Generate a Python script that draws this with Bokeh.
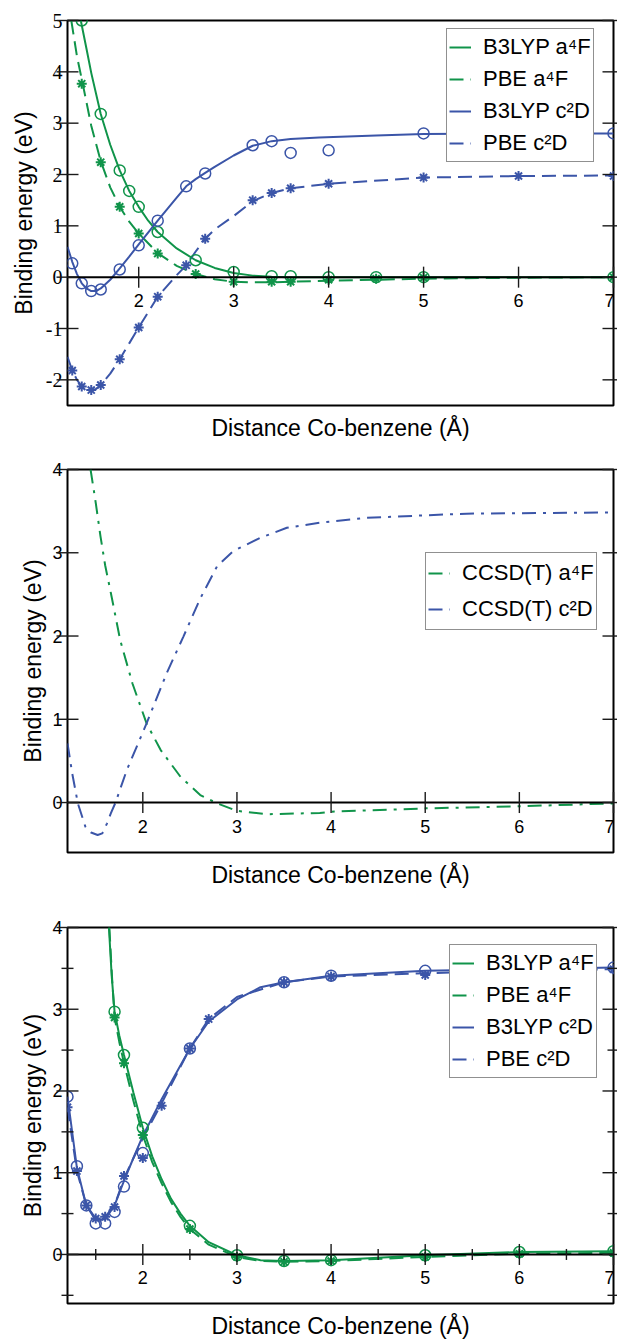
from bokeh.plotting import figure
from bokeh.layouts import column
from bokeh.models import FixedTicker, Range1d, Legend, LegendItem, Span
from bokeh.core.properties import value
from bokeh.embed import file_html
from bokeh.resources import INLINE

GREEN = "#10944a"
BLUE = "#3b55a8"

# ---------------- Panel 1 (DFT, top) ----------------
p1_b3_a4f_x = [1.4, 1.6, 1.8, 1.9, 2.0, 2.2, 2.6, 3.0, 3.4, 3.6, 4.0, 4.5, 5.0, 7.0]
p1_b3_a4f_y = [5.0, 3.18, 2.08, 1.68, 1.37, 0.88, 0.33, 0.10, 0.02, 0.02, 0.0, 0.0, 0.0, 0.0]
p1_pbe_a4f_x = [1.4, 1.6, 1.8, 2.0, 2.2, 2.6, 3.0, 3.4, 3.6, 4.0, 4.5, 5.0, 7.0]
p1_pbe_a4f_y = [3.77, 2.24, 1.37, 0.85, 0.46, 0.06, -0.09, -0.09, -0.09, -0.05, -0.03, -0.01, 0.0]
p1_b3_c2d_x = [1.3, 1.4, 1.5, 1.6, 1.8, 2.0, 2.2, 2.5, 2.7, 3.2, 3.4, 3.6, 4.0, 5.0, 6.0, 7.0]
p1_b3_c2d_y = [0.27, -0.12, -0.27, -0.24, 0.15, 0.62, 1.10, 1.77, 2.02, 2.57, 2.65, 2.42, 2.47, 2.80, 2.80, 2.80]
p1_pbe_c2d_x = [1.3, 1.4, 1.5, 1.6, 1.8, 2.0, 2.2, 2.5, 2.7, 3.2, 3.4, 3.6, 4.0, 5.0, 6.0, 7.0]
p1_pbe_c2d_y = [-1.82, -2.13, -2.20, -2.10, -1.60, -0.98, -0.38, 0.23, 0.75, 1.50, 1.64, 1.73, 1.82, 1.94, 1.97, 1.97]
c1_b3_a4f_x = [1.39, 1.45, 1.5, 1.6, 1.7, 1.8, 1.9, 2.0, 2.1, 2.2, 2.4, 2.6, 2.8, 3.0, 3.2, 3.4, 3.6, 4.0, 5.0, 6.0, 7.0]
c1_b3_a4f_y = [5.0, 4.45, 3.98, 3.18, 2.58, 2.08, 1.68, 1.37, 1.10, 0.88, 0.56, 0.33, 0.18, 0.08, 0.03, 0.01, 0.0, 0.0, 0.0, 0.0, 0.0]
c1_pbe_a4f_x = [1.29, 1.35, 1.41, 1.5, 1.6, 1.7, 1.8, 1.9, 2.0, 2.2, 2.4, 2.6, 2.8, 3.0, 3.2, 3.4, 3.6, 4.0, 5.0, 6.0, 7.0]
c1_pbe_a4f_y = [5.0, 4.3, 3.77, 2.95, 2.26, 1.75, 1.37, 1.08, 0.85, 0.47, 0.22, 0.06, -0.04, -0.09, -0.10, -0.10, -0.09, -0.07, -0.03, -0.01, 0.0]
c1_b3_c2d_x = [1.25, 1.3, 1.35, 1.4, 1.45, 1.5, 1.55, 1.6, 1.7, 1.8, 1.9, 2.0, 2.2, 2.4, 2.5, 2.6, 2.7, 2.8, 3.0, 3.2, 3.4, 3.6, 3.9, 4.5, 5.0, 6.0, 7.0]
c1_b3_c2d_y = [0.59, 0.30, 0.06, -0.12, -0.22, -0.27, -0.27, -0.22, -0.05, 0.17, 0.40, 0.64, 1.10, 1.55, 1.77, 1.91, 2.03, 2.15, 2.37, 2.56, 2.65, 2.69, 2.72, 2.76, 2.79, 2.80, 2.80]
c1_pbe_c2d_x = [1.25, 1.3, 1.35, 1.4, 1.45, 1.5, 1.55, 1.6, 1.7, 1.8, 1.9, 2.0, 2.2, 2.4, 2.5, 2.6, 2.7, 2.8, 3.0, 3.2, 3.4, 3.6, 4.0, 5.0, 6.0, 7.0]
c1_pbe_c2d_y = [-1.55, -1.82, -2.0, -2.13, -2.19, -2.21, -2.18, -2.10, -1.88, -1.60, -1.29, -0.98, -0.38, 0.04, 0.23, 0.50, 0.75, 0.93, 1.19, 1.48, 1.64, 1.73, 1.82, 1.94, 1.97, 1.98]

# ---------------- Panel 2 (CCSD(T), middle) ----------------
c2_a4f_x = [1.445, 1.5, 1.55, 1.6, 1.66, 1.76, 1.89, 2.04, 2.19, 2.4, 2.61, 2.79, 3.0, 3.32, 3.88, 4.0, 5.0, 6.0, 7.0]
c2_a4f_y = [4.0, 3.6, 3.20, 2.85, 2.52, 1.95, 1.43, 0.95, 0.63, 0.31, 0.09, -0.01, -0.10, -0.14, -0.125, -0.11, -0.07, -0.045, -0.01]
c2_c2d_x = [1.2, 1.25, 1.31, 1.39, 1.45, 1.52, 1.57, 1.62, 1.66, 1.71, 1.83, 2.04, 2.26, 2.43, 2.61, 2.79, 2.96, 3.25, 3.53, 3.88, 4.38, 5.44, 7.0]
c2_c2d_y = [0.71, 0.35, -0.01, -0.29, -0.36, -0.39, -0.37, -0.25, -0.13, 0.0, 0.39, 0.95, 1.57, 1.99, 2.45, 2.84, 3.02, 3.18, 3.30, 3.36, 3.42, 3.47, 3.485]

# ---------------- Panel 3 (DFT, bottom) ----------------
p3_b3_a4f_x = [1.7, 1.8, 2.0, 2.5, 3.0, 3.5, 4.0, 5.0, 6.0, 7.0]
p3_b3_a4f_y = [2.97, 2.44, 1.55, 0.35, -0.01, -0.08, -0.07, -0.01, 0.03, 0.04]
p3_pbe_a4f_x = [1.7, 1.8, 2.0, 2.5, 3.0, 3.5, 4.0, 5.0, 6.0, 7.0]
p3_pbe_a4f_y = [2.90, 2.34, 1.46, 0.31, -0.03, -0.09, -0.08, -0.03, 0.01, 0.02]
p3_b3_c2d_x = [1.2, 1.3, 1.4, 1.5, 1.6, 1.7, 1.8, 2.0, 2.5, 3.5, 4.0, 5.0, 6.0, 7.0]
p3_b3_c2d_y = [1.93, 1.08, 0.60, 0.38, 0.38, 0.52, 0.83, 1.24, 2.52, 3.33, 3.41, 3.47, 3.49, 3.51]
p3_pbe_c2d_x = [1.2, 1.3, 1.4, 1.5, 1.6, 1.7, 1.8, 2.0, 2.2, 2.5, 2.7, 3.5, 4.0, 5.0, 6.0, 7.0]
p3_pbe_c2d_y = [1.80, 1.02, 0.60, 0.44, 0.46, 0.58, 0.96, 1.18, 1.82, 2.52, 2.88, 3.33, 3.40, 3.42, 3.47, 3.49]
c3_b3_a4f_x = [1.64, 1.67, 1.7, 1.75, 1.8, 1.9, 2.0, 2.1, 2.2, 2.3, 2.4, 2.5, 2.7, 3.0, 3.25, 3.5, 4.0, 5.0, 6.0, 7.0]
c3_b3_a4f_y = [4.0, 3.4, 2.97, 2.68, 2.44, 1.98, 1.55, 1.20, 0.92, 0.68, 0.50, 0.35, 0.15, -0.01, -0.07, -0.08, -0.07, -0.01, 0.03, 0.04]
c3_pbe_a4f_x = [1.645, 1.675, 1.7, 1.75, 1.8, 1.9, 2.0, 2.1, 2.2, 2.3, 2.4, 2.5, 2.7, 3.0, 3.25, 3.5, 4.0, 5.0, 6.0, 7.0]
c3_pbe_a4f_y = [4.0, 3.35, 2.90, 2.60, 2.34, 1.88, 1.46, 1.13, 0.87, 0.64, 0.46, 0.31, 0.12, -0.03, -0.08, -0.09, -0.08, -0.03, 0.01, 0.02]
c3_b3_c2d_x = [1.2, 1.3, 1.4, 1.5, 1.6, 1.7, 1.8, 1.9, 2.0, 2.2, 2.5, 2.7, 3.0, 3.25, 3.5, 4.0, 5.0, 6.0, 7.0]
c3_b3_c2d_y = [1.93, 1.06, 0.60, 0.42, 0.43, 0.60, 0.90, 1.18, 1.45, 1.90, 2.52, 2.85, 3.12, 3.27, 3.33, 3.41, 3.47, 3.49, 3.51]
c3_pbe_c2d_x = [1.2, 1.3, 1.4, 1.5, 1.6, 1.7, 1.8, 2.0, 2.2, 2.5, 2.7, 3.0, 3.5, 4.0, 5.0, 6.0, 7.0]
c3_pbe_c2d_y = [1.80, 1.02, 0.60, 0.44, 0.46, 0.60, 0.93, 1.42, 1.85, 2.52, 2.88, 3.15, 3.33, 3.40, 3.44, 3.47, 3.49]

x_major = [2, 3, 4, 5, 6, 7]
x_labels = ["2", "3", "4", "5", "6", "7"]
x_minor = [1.5, 2.5, 3.5, 4.5, 5.5, 6.5]
y1_major = [-2, -1, 0, 1, 2, 3, 4, 5]
y23_major = [0, 1, 2, 3, 4]
y23_minor = [-0.5, 0.5, 1.5, 2.5, 3.5]

SANS = "Liberation Sans"
SERIF = "Liberation Serif"
DASH = "14 7"
DASHDOT = "14 7 3 7"
TICK = "#1a1a1a"
FIG_W = 617
BORDER_R = 4


def tick_marks(p, xs, ys, w, h):
    # thin filled bars sized in screen pixels (ticks at the frame edge are clipped to half)
    p.rect(x=xs, y=ys, width=w, height=h, width_units="screen", height_units="screen",
           fill_color=TICK, line_color=None, level="overlay")


def make_fig(h, xr, yr, bl, bt, bb, ymaj, ytick_font, ytick_size, ylab_standoff,
             xlab_offset, minor=False):
    p = figure(width=FIG_W, height=h, x_range=Range1d(*xr), y_range=Range1d(*yr),
               output_backend="svg", toolbar_location=None,
               min_border_left=bl, min_border_right=BORDER_R, min_border_top=bt,
               min_border_bottom=bb)
    p.xgrid.visible = False
    p.ygrid.visible = False
    p.outline_line_color = "black"
    p.outline_line_width = 2
    p.background_fill_color = "white"
    p.border_fill_color = "white"

    xa = p.xaxis[0]
    xa.ticker = FixedTicker(ticks=[])
    xa.axis_line_color = None
    xa.major_tick_in = 0
    xa.major_tick_out = 0
    xa.minor_tick_in = 0
    xa.minor_tick_out = 0
    xa.major_label_standoff = 0
    xa.axis_label = "Distance Co-benzene (Å)"
    xa.axis_label_text_font = SANS
    xa.axis_label_text_font_size = "23px"
    xa.axis_label_text_font_style = "normal"
    xa.axis_label_text_color = "black"
    xa.axis_label_standoff = 9

    ya = p.yaxis[0]
    ya.ticker = FixedTicker(ticks=ymaj)
    ya.major_label_overrides = {v: str(v) for v in ymaj}
    ya.axis_line_color = None
    ya.major_tick_in = 0
    ya.major_tick_out = 0
    ya.minor_tick_in = 0
    ya.minor_tick_out = 0
    ya.major_label_text_font = ytick_font
    ya.major_label_text_font_size = ytick_size
    ya.major_label_text_color = "black"
    ya.major_label_standoff = 5
    ya.axis_label = "Binding energy (eV)"
    ya.axis_label_text_font = SANS
    ya.axis_label_text_font_size = "23px"
    ya.axis_label_text_font_style = "normal"
    ya.axis_label_text_color = "black"
    ya.axis_label_standoff = ylab_standoff

    n = len(x_major)
    m = len(ymaj)
    tick_marks(p, x_major, [0] * n, 1.4, 21)
    tick_marks(p, [xr[0]] * m, ymaj, 22, 1.4)
    tick_marks(p, [xr[1]] * m, ymaj, 22, 1.4)
    if minor:
        tick_marks(p, x_minor, [0] * len(x_minor), 1.4, 11)
        tick_marks(p, [xr[0]] * len(y23_minor), y23_minor, 12, 1.4)
        tick_marks(p, [xr[1]] * len(y23_minor), y23_minor, 12, 1.4)

    p.add_layout(Span(location=0, dimension="width", line_color="black", line_width=2))
    p.text(x_major, [0] * n, text=x_labels, text_align="center",
           text_baseline="middle", x_offset=[0, 0, 0, 0, 0, -4], y_offset=xlab_offset,
           text_font=value(SANS), text_font_size="18px", text_color="black")
    return p


def style_legend(leg, loc, row_h, pad):
    leg.location = loc
    leg.margin = 0
    leg.padding = pad
    leg.spacing = 0
    leg.label_height = row_h
    leg.glyph_height = row_h
    leg.glyph_width = 22
    leg.label_standoff = 12
    leg.label_text_font = SANS
    leg.label_text_font_size = "22px"
    leg.label_text_color = "black"
    leg.label_text_baseline = "middle"
    leg.border_line_color = "#222222"
    leg.border_line_width = 1
    leg.background_fill_alpha = 1


# ---- top ----
p1 = make_fig(448, (1.25, 7.0), (-2.5, 5.0), 63, 20, 43, y1_major, SERIF, "20px", 6, 23)
l1 = p1.line(c1_b3_a4f_x, c1_b3_a4f_y, line_color=GREEN, line_width=2)
l2 = p1.line(c1_pbe_a4f_x, c1_pbe_a4f_y, line_color=GREEN, line_width=2, line_dash=DASH)
l3 = p1.line(c1_b3_c2d_x, c1_b3_c2d_y, line_color=BLUE, line_width=2)
l4 = p1.line(c1_pbe_c2d_x, c1_pbe_c2d_y, line_color=BLUE, line_width=2, line_dash=DASH)
p1.scatter(p1_b3_a4f_x, p1_b3_a4f_y, marker="circle", size=11, fill_color=None, line_color=GREEN, line_width=1.5)
p1.scatter(p1_pbe_a4f_x, p1_pbe_a4f_y, marker="asterisk", size=10, line_color=GREEN, line_width=2)
p1.scatter(p1_b3_c2d_x, p1_b3_c2d_y, marker="circle", size=11, fill_color=None, line_color=BLUE, line_width=1.5)
p1.scatter(p1_pbe_c2d_x, p1_pbe_c2d_y, marker="asterisk", size=10, line_color=BLUE, line_width=2)
leg1 = Legend(items=[LegendItem(label="B3LYP a⁴F", renderers=[l1]),
                     LegendItem(label="PBE a⁴F", renderers=[l2]),
                     LegendItem(label="B3LYP c²D", renderers=[l3]),
                     LegendItem(label="PBE c²D", renderers=[l4])])
style_legend(leg1, (379, 243), 32, 2)
p1.add_layout(leg1)

# ---- middle ----
p2 = make_fig(445, (1.2, 7.0), (-0.6, 4.0), 67, 21, 41, y23_major, SANS, "18px", 3, 24)
m1 = p2.line(c2_a4f_x, c2_a4f_y, line_color=GREEN, line_width=2, line_dash=DASHDOT)
m2 = p2.line(c2_c2d_x, c2_c2d_y, line_color=BLUE, line_width=2, line_dash=DASHDOT)
leg2 = Legend(items=[LegendItem(label="CCSD(T) a⁴F", renderers=[m1]),
                     LegendItem(label="CCSD(T) c²D", renderers=[m2])])
style_legend(leg2, (358, 222), 36, 2)
p2.add_layout(leg2)

# ---- bottom ----
p3 = make_fig(448, (1.2, 7.0), (-0.6, 4.0), 67, 34, 32, y23_major, SANS, "18px", 3, 23, minor=True)
b1 = p3.line(c3_b3_a4f_x, c3_b3_a4f_y, line_color=GREEN, line_width=2)
b2 = p3.line(c3_pbe_a4f_x, c3_pbe_a4f_y, line_color=GREEN, line_width=2, line_dash=DASH)
b3 = p3.line(c3_b3_c2d_x, c3_b3_c2d_y, line_color=BLUE, line_width=2)
b4 = p3.line(c3_pbe_c2d_x, c3_pbe_c2d_y, line_color=BLUE, line_width=2, line_dash=DASH)
p3.scatter(p3_b3_a4f_x, p3_b3_a4f_y, marker="circle", size=11, fill_color=None, line_color=GREEN, line_width=1.5)
p3.scatter(p3_pbe_a4f_x, p3_pbe_a4f_y, marker="asterisk", size=10, line_color=GREEN, line_width=2)
p3.scatter(p3_b3_c2d_x, p3_b3_c2d_y, marker="circle", size=11, fill_color=None, line_color=BLUE, line_width=1.5)
p3.scatter(p3_pbe_c2d_x, p3_pbe_c2d_y, marker="asterisk", size=10, line_color=BLUE, line_width=2)
leg3 = Legend(items=[LegendItem(label="B3LYP a⁴F", renderers=[b1]),
                     LegendItem(label="PBE a⁴F", renderers=[b2]),
                     LegendItem(label="B3LYP c²D", renderers=[b3]),
                     LegendItem(label="PBE c²D", renderers=[b4])])
style_legend(leg3, (382, 225), 32, 2)
p3.add_layout(leg3)

layout = column(p1, p2, p3, spacing=0)
open("out.html", "w").write(file_html(layout, INLINE))
